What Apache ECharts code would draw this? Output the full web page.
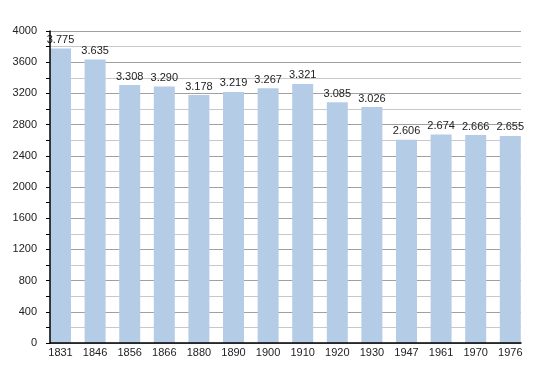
<!DOCTYPE html>
<html><head><meta charset="utf-8">
<script src="https://cdn.jsdelivr.net/npm/echarts@6/dist/echarts.min.js"></script>
<style>html,body{margin:0;padding:0;background:#fff}#c{width:550px;height:373px}</style>
</head><body><div id="c"></div>
<script>
const categories = ["1831","1846","1856","1866","1880","1890","1900","1910","1920","1930","1947","1961","1970","1976"];
const population = [3775,3635,3308,3290,3178,3219,3267,3321,3085,3026,2606,2674,2666,2655];
const yTicks = [0,400,800,1200,1600,2000,2400,2800,3200,3600,4000];

const FONT = 'Liberation Sans, Arial, sans-serif';
const fmt = v => { const s = String(v); return s.length > 3 ? s.slice(0, s.length-3) + '.' + s.slice(-3) : s; };
const yMin = yTicks[0], yMax = yTicks[yTicks.length-1];
const chart = echarts.init(document.getElementById('c'), null, {renderer:'canvas'});
chart.setOption({
  animation:false,
  grid:[
    {left:43.2,right:22.4,top:31,bottom:30,containLabel:false},
    {left:50,right:29,top:31,bottom:30,containLabel:false}
  ],
  xAxis:[
    {gridIndex:0,type:'category',data:categories,position:'bottom',
      axisLine:{show:false},axisTick:{show:false},splitLine:{show:false},
      axisLabel:{color:'#222',fontSize:11,fontFamily:FONT,margin:4}},
    {gridIndex:1,type:'category',data:categories,z:5,position:'bottom',
      axisLine:{show:true,onZero:false,lineStyle:{color:'#000',width:1.5}},
      axisTick:{show:false},axisLabel:{show:false},splitLine:{show:false}}
  ],
  yAxis:[
    {gridIndex:0,type:'value',min:yMin,max:yMax,interval:400,show:false,splitLine:{show:false}},
    {gridIndex:1,type:'value',min:yMin,max:yMax,interval:400,z:0,position:'left',
      axisLine:{show:false},axisTick:{show:false},
      axisLabel:{color:'#222',fontSize:11,fontFamily:FONT,margin:13,formatter:v=>String(v)},
      splitLine:{show:true,lineStyle:{color:'#a0a0a0',width:1}},
      minorTick:{show:false,splitNumber:2},
      minorSplitLine:{show:true,lineStyle:{color:'#c8c8c8',width:1}}},
    {gridIndex:1,type:'value',min:yMin,max:yMax,interval:400,z:5,position:'left',offset:0,
      axisLine:{show:true,onZero:false,lineStyle:{color:'#000',width:1.5}},
      axisTick:{show:true,length:4,lineStyle:{color:'#000'}},
      minorTick:{show:true,splitNumber:2,length:4,lineStyle:{color:'#000'}},
      axisLabel:{show:false},splitLine:{show:false},minorSplitLine:{show:false}}
  ],
  series:[{type:'bar',xAxisIndex:0,yAxisIndex:0,data:population,barWidth:21,
    itemStyle:{color:'#b4cce6'},
    label:{show:true,position:'top',distance:3,color:'#222',fontSize:11,
      fontFamily:FONT,formatter:p=>fmt(p.value)}}]
});
</script></body></html>
